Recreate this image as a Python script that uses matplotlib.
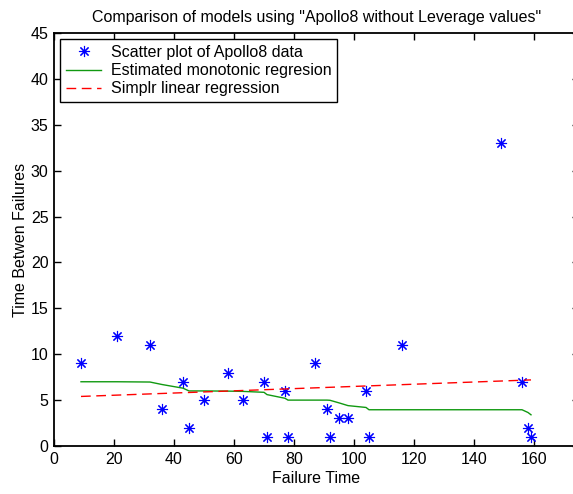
import matplotlib
matplotlib.use("Agg")
import matplotlib.pyplot as plt

# Apollo 8 failure data
failure_time = [9, 21, 32, 36, 43, 45, 50, 58, 63, 70, 71, 77, 78, 87, 91, 92,
                95, 98, 104, 105, 116, 149, 156, 158, 159]
time_between = [9, 12, 11, 4, 7, 2, 5, 8, 5, 7, 1, 6, 1, 9, 4, 1,
                3, 3, 6, 1, 11, 33, 7, 2, 1]

# estimated monotonic regression, read at each failure time
mono_fit = [7.0, 7.0, 6.97, 6.7, 6.3, 6.0, 6.0, 5.98, 5.95, 5.85, 5.6, 5.2, 5.0,
            5.0, 5.0, 4.98, 4.7, 4.4, 4.2, 3.95, 3.95, 3.95, 3.95, 3.65, 3.4]

# simple linear regression end points
lin_x = [9, 159]
lin_y = [5.4, 7.2]

plt.rcParams["font.family"] = ["Liberation Sans", "DejaVu Sans"]
plt.rcParams["font.size"] = 11.5

fig = plt.figure(figsize=(5.73, 4.94), dpi=100)
ax = fig.add_axes([54 / 573, 48 / 494, 525 / 573, 413 / 494])

ax.plot(failure_time, time_between, linestyle="none", marker=(8, 2, 0),
        markersize=8, markeredgewidth=0.8, color="#0000ff",
        label="Scatter plot of Apollo8 data")
ax.plot(failure_time, mono_fit, color="#119911", linewidth=1.0,
        label="Estimated monotonic regresion")
ax.plot(lin_x, lin_y, color="#ff0000", linewidth=1.0, dashes=(7, 4),
        label="Simplr linear regression")

ax.set_xlim(0, 175)
ax.set_ylim(0, 45)
ax.set_xticks(range(0, 161, 20))
ax.set_yticks(range(0, 46, 5))
ax.tick_params(direction="in", length=5, width=1, top=True, right=True,
               labelsize=11.5, pad=4)
for s in ax.spines.values():
    s.set_linewidth(1.3)

ax.set_title('Comparison of models using "Apollo8 without Leverage values"',
             fontsize=11.5, pad=8)
ax.set_xlabel("Failure Time", fontsize=11.5, labelpad=3)
ax.set_ylabel("Time Betwen Failures", fontsize=11.5, labelpad=2)

leg = ax.legend(loc="upper left", fontsize=11.5, frameon=True, fancybox=False,
                edgecolor="black", framealpha=1, borderaxespad=0.4,
                handlelength=2.2, labelspacing=0.2, borderpad=0.35,
                handletextpad=0.6)
leg.get_frame().set_linewidth(1.0)

fig.savefig("out.png", dpi=100)
